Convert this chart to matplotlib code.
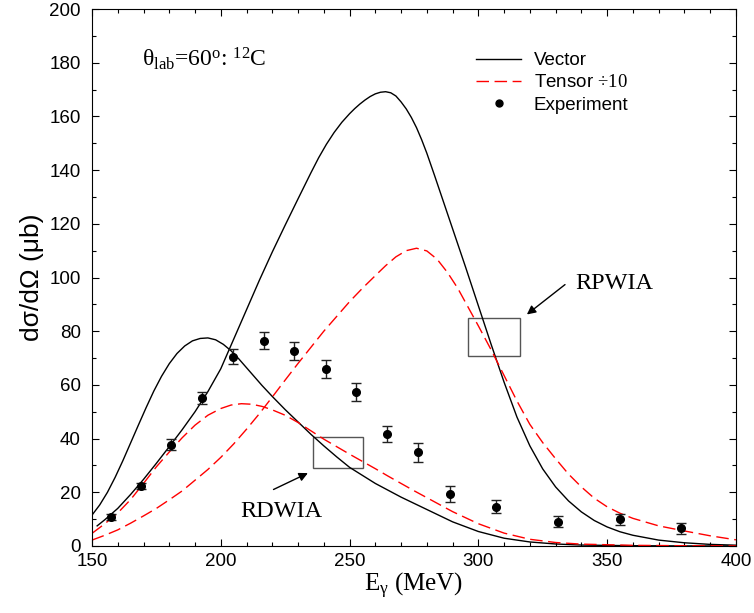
import matplotlib
matplotlib.use("Agg")
import matplotlib.pyplot as plt
from matplotlib.lines import Line2D
from matplotlib.legend_handler import HandlerLine2D
from matplotlib.patches import Rectangle
from matplotlib.ticker import MultipleLocator

plt.rcParams["mathtext.fontset"] = "custom"
plt.rcParams["mathtext.rm"] = "Liberation Serif"
plt.rcParams["mathtext.it"] = "Liberation Serif:italic"
plt.rcParams["mathtext.bf"] = "Liberation Serif:bold"

SANS = "Liberation Sans"
SERIF = "Liberation Serif"

# RDWIA, vector (solid, low peak)
rdwia_vec_x = [150, 153, 156, 159, 162, 165, 168, 171, 174, 177, 180, 183, 186, 189, 192,
               195, 198, 201, 204, 207, 210, 213, 216, 220, 225, 230, 235, 240, 245, 250,
               260, 270, 280, 290, 300, 310, 320, 330, 340, 360, 380, 400]
rdwia_vec_y = [11.5, 15.3, 20.0, 25.6, 31.8, 38.4, 45.0, 51.5, 57.7, 63.2, 67.9, 71.7, 74.5,
               76.4, 77.3, 77.5, 76.8, 75.1, 72.7, 69.7, 66.4, 63.1, 59.8, 55.7, 50.8, 46.2,
               41.6, 37.3, 33.2, 29.3, 23.3, 18.2, 13.6, 9.0, 5.4, 2.9, 1.5, 0.75, 0.35,
               0.1, 0.03, 0.0]

# RDWIA, tensor / 10 (dashed, low peak)
rdwia_ten_x = [150, 155, 160, 165, 170, 175, 180, 185, 190, 195, 200, 204, 208, 212, 216,
               220, 225, 230, 235, 240, 245, 250, 255, 260, 265, 270, 275, 280, 290, 300,
               310, 320, 330, 340, 360, 380, 400]
rdwia_ten_y = [4.7, 8.3, 12.3, 17.3, 23.3, 29.5, 35.0, 40.3, 45.0, 48.7, 51.2, 52.5, 53.0,
               52.8, 52.0, 50.7, 48.7, 46.0, 42.9, 39.8, 37.0, 34.2, 31.5, 28.8, 26.0, 23.3,
               20.6, 18.0, 12.8, 8.3, 4.8, 2.5, 1.3, 0.7, 0.25, 0.1, 0.05]

# RPWIA, vector (solid, high peak)
rpwia_vec_x = [152, 155, 160, 165, 170, 175, 180, 185, 190, 195, 200, 205, 210, 215, 220,
               225, 230, 235, 238, 241, 244, 247, 250, 252, 254, 256, 258, 260, 262, 264,
               266, 268, 270, 272, 274, 276, 278, 280, 283, 286, 289, 292, 295, 300, 305,
               310, 315, 320, 325, 330, 335, 340, 345, 350, 355, 360, 370, 380, 390, 400]
rpwia_vec_y = [7.5, 9.8, 14.0, 19.2, 24.8, 30.8, 37.0, 43.3, 50.0, 57.5, 66.0, 77.0, 88.0,
               99.0, 109.5, 119.5, 129.3, 139.0, 144.6, 149.6, 154.0, 157.8, 161.0, 162.9,
               164.6, 166.1, 167.4, 168.4, 169.0, 169.2, 168.8, 167.6, 165.4, 162.8, 159.6,
               155.8, 151.3, 146.3, 138.0, 129.5, 121.0, 112.5, 104.0, 89.5, 75.0, 61.0,
               48.0, 37.3, 28.7, 22.0, 16.8, 12.7, 9.5, 7.1, 5.3, 4.0, 2.2, 1.2, 0.6, 0.3]

# RPWIA, tensor / 10 (dashed, high peak)
rpwia_ten_x = [150, 155, 160, 165, 170, 175, 180, 185, 190, 195, 200, 205, 210, 215, 220,
               225, 230, 235, 240, 245, 250, 255, 260, 264, 268, 272, 276, 280, 284, 288,
               292, 296, 300, 305, 310, 315, 320, 325, 330, 335, 340, 345, 350, 355, 360,
               370, 380, 390, 400]
rpwia_ten_y = [2.2, 4.0, 6.0, 8.5, 11.2, 14.0, 17.2, 20.5, 24.5, 28.5, 33.0, 38.0, 43.5,
               49.3, 55.5, 61.8, 68.0, 74.0, 80.0, 85.5, 91.0, 96.0, 100.7, 104.4, 107.7,
               110.0, 110.9, 109.9, 106.8, 101.9, 96.0, 89.0, 82.0, 73.0, 63.5, 54.0, 45.3,
               38.5, 32.5, 26.8, 22.0, 17.8, 14.6, 12.2, 10.3, 7.5, 5.6, 3.8, 2.3]

# experiment
exp_x = [157.3, 169.0, 180.8, 192.7, 204.6, 216.6, 228.5, 240.7, 252.6, 264.6, 276.6,
         289.0, 306.8, 331.0, 355.0, 378.6]
exp_y = [10.8, 22.4, 37.8, 55.2, 70.4, 76.5, 72.7, 65.9, 57.3, 41.7, 34.9, 19.5, 14.7,
         9.1, 9.9, 6.6]
exp_err = [1.0, 1.2, 2.0, 2.3, 2.8, 3.2, 3.4, 3.3, 3.3, 3.1, 3.5, 3.0, 2.3, 2.0, 2.0, 2.0]


class HandlerMarkerRight(HandlerLine2D):
    def get_xdata(self, legend, xdescent, ydescent, width, height, fontsize):
        xdata, _ = super().get_xdata(legend, xdescent, ydescent, width, height, fontsize)
        return xdata, [-xdescent + 0.96 * width]


fig = plt.figure(figsize=(7.54, 6.13), dpi=100)
ax = fig.add_axes([0.122, 0.1093, 0.854, 0.876])

ax.plot(rdwia_vec_x, rdwia_vec_y, color="black", lw=1.0)
ax.plot(rpwia_vec_x, rpwia_vec_y, color="black", lw=1.0)
ax.plot(rdwia_ten_x, rdwia_ten_y, color="#ff0000", lw=1.0, dashes=(9, 4))
ax.plot(rpwia_ten_x, rpwia_ten_y, color="#ff0000", lw=1.0, dashes=(9, 4))
ax.errorbar(exp_x, exp_y, yerr=exp_err, fmt="o", color="black", ms=5.5,
            ecolor="#222222", elinewidth=1.0, capsize=3.5, capthick=1.0)

# boxes and arrows marking the two model sets
ax.add_patch(Rectangle((235.9, 29.0), 19.4, 11.7, fill=False, edgecolor="#555555", lw=1.0))
ax.add_patch(Rectangle((296.1, 70.8), 20.1, 14.3, fill=False, edgecolor="#555555", lw=1.0))
ax.annotate("", xy=(234.8, 27.6), xytext=(219.5, 20.6),
            arrowprops=dict(arrowstyle="-|>", color="black", lw=1.0, mutation_scale=13))
ax.annotate("", xy=(318.0, 85.6), xytext=(334.5, 98.0),
            arrowprops=dict(arrowstyle="-|>", color="black", lw=1.0, mutation_scale=13))
ax.text(223.4, 12.8, "RDWIA", family=SERIF, fontsize=17.5, ha="center", va="center")
ax.text(352.6, 97.6, "RPWIA", family=SERIF, fontsize=17.5, ha="center", va="center")

ax.text(169.3, 178.6, r"θ$_{\mathrm{lab}}$=60$^{\mathrm{o}}$: $^{\mathrm{12}}$C",
        family=SERIF, fontsize=17, ha="left", va="baseline")

ax.set_xlim(150, 400)
ax.set_ylim(0, 200)
ax.xaxis.set_major_locator(MultipleLocator(50))
ax.xaxis.set_minor_locator(MultipleLocator(10))
ax.yaxis.set_major_locator(MultipleLocator(20))
ax.yaxis.set_minor_locator(MultipleLocator(10))
ax.tick_params(which="both", direction="in", top=True, right=True, width=0.8)
ax.tick_params(which="major", length=5)
ax.tick_params(which="minor", length=3)
ax.tick_params(axis="y", pad=8)
ax.tick_params(axis="x", pad=5)
for lab in ax.get_xticklabels() + ax.get_yticklabels():
    lab.set_family(SANS)
    lab.set_fontsize(13.5)
for spine in ax.spines.values():
    spine.set_linewidth(0.8)

ax.set_xlabel(r"E$_{\mathrm{γ}}$ (MeV)", family=SERIF, fontsize=18, labelpad=1)
ax.set_ylabel("dσ/dΩ (μb)", family=SANS, fontsize=19, labelpad=4)

handles = [
    Line2D([], [], color="black", lw=1.0),
    Line2D([], [], color="#ff0000", lw=1.0, dashes=(9, 4)),
    Line2D([], [], color="black", marker="o", ms=5, ls="none"),
]
labels = ["Vector", r"Tensor $\div\mathrm{10}$", "Experiment"]
ax.legend(handles, labels, loc="upper left", bbox_to_anchor=(0.597, 0.92),
          frameon=False, borderpad=0, borderaxespad=0, handlelength=2.4,
          handletextpad=0.65, labelspacing=0.28, prop={"family": SANS, "size": 13.5},
          handler_map={handles[2]: HandlerMarkerRight(numpoints=1)})

fig.savefig("out.png", dpi=100)
